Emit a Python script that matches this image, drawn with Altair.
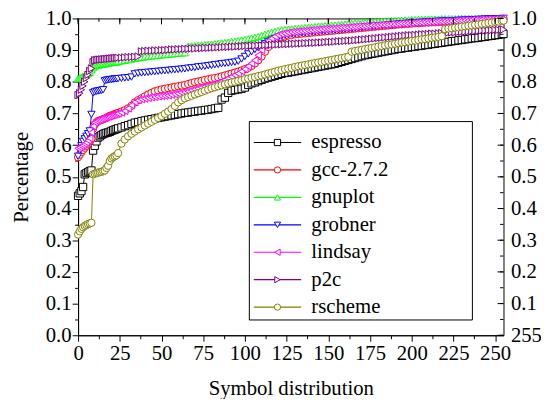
import altair as alt
import pandas as pd

SERIES = ["espresso", "gcc-2.7.2", "gnuplot", "grobner", "lindsay", "p2c", "rscheme"]
COLORS = ["#000000", "#ff0000", "#00ff00", "#0000ff", "#ff00ff", "#800080", "#808000"]
SHAPES = ["square", "circle", "triangle-up", "triangle-down",
          "triangle-left", "triangle-right", "circle"]

# symbol index: every one up to 24, then every second one, then the last
X = list(range(25)) + list(range(26, 255, 2)) + [255]

ESPRESSO = [
    0.440, 0.448, 0.455, 0.468, 0.508, 0.512, 0.515, 0.518, 0.520, 0.583,
    0.598, 0.612, 0.624, 0.628, 0.632, 0.635, 0.637, 0.639, 0.640, 0.642,
    0.645, 0.647, 0.649, 0.651, 0.653,
    0.656, 0.660, 0.663, 0.667, 0.671, 0.673, 0.676, 0.678, 0.680, 0.682,
    0.684, 0.686, 0.688, 0.690, 0.692, 0.694, 0.696, 0.698, 0.700, 0.702,
    0.703, 0.705, 0.706, 0.708, 0.709, 0.711, 0.712, 0.714, 0.716, 0.718,
    0.744, 0.750, 0.765, 0.772, 0.774, 0.776, 0.778, 0.782, 0.790, 0.795,
    0.798, 0.802, 0.806, 0.810, 0.813, 0.816, 0.819, 0.822, 0.825, 0.828,
    0.829, 0.831, 0.833, 0.835, 0.837, 0.839, 0.841, 0.843, 0.845, 0.847,
    0.849, 0.851, 0.853, 0.855, 0.857, 0.860, 0.863, 0.866, 0.869, 0.872,
    0.875, 0.878, 0.881, 0.884, 0.886, 0.888, 0.890, 0.892, 0.894, 0.896,
    0.898, 0.900, 0.902, 0.904, 0.905, 0.907, 0.908, 0.910, 0.911, 0.913,
    0.914, 0.916, 0.917, 0.919, 0.920, 0.922, 0.923, 0.925, 0.926, 0.928,
    0.929, 0.931, 0.932, 0.934, 0.935, 0.937, 0.938, 0.939, 0.941, 0.942,
    0.944, 0.945, 0.947, 0.948, 0.950, 0.951,
]
GCC = [
    0.562, 0.570, 0.578, 0.585, 0.592, 0.598, 0.605, 0.612, 0.620, 0.652,
    0.665, 0.672, 0.676, 0.678, 0.680, 0.682, 0.684, 0.686, 0.690, 0.692,
    0.694, 0.696, 0.698, 0.700, 0.702,
    0.706, 0.710, 0.716, 0.724, 0.735, 0.742, 0.748, 0.754, 0.760, 0.765,
    0.770, 0.773, 0.776, 0.778, 0.780, 0.782, 0.784, 0.786, 0.788, 0.790,
    0.793, 0.796, 0.799, 0.801, 0.803, 0.806, 0.808, 0.810, 0.812, 0.814,
    0.817, 0.820, 0.823, 0.826, 0.829, 0.832, 0.836, 0.840, 0.844, 0.850,
    0.858, 0.868, 0.880, 0.895, 0.910, 0.922, 0.930, 0.936, 0.940, 0.943,
    0.946, 0.948, 0.950, 0.951, 0.952, 0.953, 0.954, 0.955, 0.956, 0.957,
    0.958, 0.959, 0.960, 0.961, 0.962, 0.963, 0.964, 0.965, 0.966, 0.967,
    0.968, 0.969, 0.970, 0.971, 0.972, 0.973, 0.974, 0.975, 0.976, 0.977,
    0.978, 0.979, 0.980, 0.981, 0.982, 0.983, 0.983, 0.984, 0.985, 0.985,
    0.986, 0.987, 0.987, 0.988, 0.988, 0.989, 0.989, 0.990, 0.990, 0.991,
    0.991, 0.992, 0.992, 0.993, 0.993, 0.994, 0.994, 0.995, 0.995, 0.996,
    0.996, 0.997, 0.997, 0.998, 0.998, 0.999,
]
GNUPLOT = [
    0.810, 0.812, 0.815, 0.818, 0.820, 0.823, 0.826, 0.830, 0.838, 0.845,
    0.850, 0.852, 0.853, 0.854, 0.855, 0.856, 0.857, 0.858, 0.859, 0.860,
    0.861, 0.862, 0.862, 0.863, 0.864,
    0.866, 0.868, 0.870, 0.872, 0.874, 0.876, 0.877, 0.879, 0.880, 0.882,
    0.883, 0.884, 0.885, 0.886, 0.887, 0.888, 0.889, 0.890, 0.891, 0.892,
    0.912, 0.913, 0.914, 0.915, 0.916, 0.917, 0.918, 0.919, 0.920, 0.921,
    0.923, 0.924, 0.925, 0.927, 0.928, 0.930, 0.932, 0.934, 0.936, 0.938,
    0.940, 0.943, 0.946, 0.950, 0.953, 0.956, 0.959, 0.962, 0.964, 0.965,
    0.966, 0.967, 0.968, 0.969, 0.970, 0.971, 0.972, 0.973, 0.974, 0.975,
    0.976, 0.977, 0.977, 0.978, 0.979, 0.980, 0.981, 0.982, 0.983, 0.984,
    0.985, 0.986, 0.987, 0.987, 0.988, 0.989, 0.990, 0.990, 0.991, 0.992,
    0.992, 0.993, 0.993, 0.994, 0.994, 0.995, 0.995, 0.996, 0.996, 0.997,
    0.997, 0.997, 0.998, 0.998, 0.998, 0.998, 0.999, 0.999, 0.999, 0.999,
    0.999, 0.999, 1.000, 1.000, 1.000, 1.000, 1.000, 1.000, 1.000, 1.000,
    1.000, 1.000, 1.000, 1.000, 1.000, 1.000,
]
GROBNER = [
    0.565, 0.583, 0.598, 0.612, 0.620, 0.628, 0.636, 0.645, 0.697, 0.765,
    0.768, 0.770, 0.771, 0.772, 0.773, 0.775, 0.803, 0.805, 0.806, 0.807,
    0.807, 0.808, 0.809, 0.809, 0.810,
    0.811, 0.812, 0.813, 0.815, 0.825, 0.827, 0.828, 0.829, 0.830, 0.831,
    0.832, 0.833, 0.834, 0.835, 0.836, 0.837, 0.838, 0.839, 0.840, 0.841,
    0.843, 0.844, 0.845, 0.847, 0.848, 0.849, 0.851, 0.852, 0.854, 0.855,
    0.857, 0.858, 0.859, 0.861, 0.862, 0.865, 0.872, 0.880, 0.888, 0.895,
    0.902, 0.908, 0.914, 0.920, 0.926, 0.931, 0.936, 0.940, 0.944, 0.947,
    0.949, 0.951, 0.952, 0.953, 0.954, 0.955, 0.956, 0.957, 0.958, 0.959,
    0.960, 0.961, 0.962, 0.963, 0.963, 0.964, 0.965, 0.966, 0.967, 0.968,
    0.969, 0.970, 0.971, 0.972, 0.973, 0.974, 0.975, 0.976, 0.977, 0.978,
    0.979, 0.980, 0.981, 0.982, 0.983, 0.984, 0.985, 0.986, 0.986, 0.987,
    0.988, 0.988, 0.989, 0.990, 0.990, 0.991, 0.991, 0.992, 0.992, 0.993,
    0.993, 0.994, 0.994, 0.995, 0.995, 0.996, 0.996, 0.997, 0.997, 0.998,
    0.998, 0.998, 0.999, 0.999, 0.999, 1.000,
]
LINDSAY = [
    0.590, 0.593, 0.597, 0.600, 0.604, 0.608, 0.615, 0.622, 0.640, 0.660,
    0.672, 0.676, 0.679, 0.681, 0.683, 0.685, 0.687, 0.689, 0.690, 0.692,
    0.694, 0.696, 0.697, 0.699, 0.700,
    0.703, 0.708, 0.716, 0.726, 0.736, 0.742, 0.745, 0.747, 0.749, 0.751,
    0.752, 0.754, 0.755, 0.756, 0.757, 0.759, 0.761, 0.763, 0.766, 0.768,
    0.770, 0.773, 0.776, 0.779, 0.782, 0.785, 0.788, 0.791, 0.794, 0.797,
    0.801, 0.806, 0.811, 0.816, 0.821, 0.826, 0.833, 0.840, 0.849, 0.858,
    0.868, 0.884, 0.900, 0.916, 0.929, 0.937, 0.943, 0.948, 0.951, 0.953,
    0.955, 0.957, 0.958, 0.959, 0.960, 0.961, 0.962, 0.963, 0.964, 0.965,
    0.966, 0.967, 0.967, 0.968, 0.969, 0.970, 0.971, 0.971, 0.972, 0.973,
    0.974, 0.975, 0.975, 0.976, 0.977, 0.978, 0.978, 0.979, 0.980, 0.980,
    0.981, 0.982, 0.982, 0.983, 0.984, 0.984, 0.985, 0.985, 0.986, 0.987,
    0.987, 0.988, 0.988, 0.989, 0.989, 0.990, 0.990, 0.991, 0.991, 0.992,
    0.992, 0.993, 0.993, 0.994, 0.994, 0.995, 0.995, 0.995, 0.996, 0.996,
    0.997, 0.997, 0.998, 0.998, 0.999, 0.999,
]
P2C = [
    0.758, 0.764, 0.775, 0.787, 0.800, 0.812, 0.822, 0.834, 0.842, 0.862,
    0.868, 0.869, 0.870, 0.870, 0.871, 0.871, 0.872, 0.872, 0.873, 0.873,
    0.874, 0.874, 0.875, 0.875, 0.876,
    0.876, 0.877, 0.878, 0.878, 0.879, 0.880, 0.896, 0.897, 0.898, 0.898,
    0.899, 0.899, 0.900, 0.900, 0.901, 0.902, 0.902, 0.903, 0.903, 0.904,
    0.904, 0.905, 0.905, 0.906, 0.906, 0.907, 0.907, 0.908, 0.908, 0.909,
    0.909, 0.910, 0.910, 0.911, 0.911, 0.912, 0.912, 0.913, 0.913, 0.914,
    0.914, 0.915, 0.915, 0.916, 0.916, 0.917, 0.917, 0.918, 0.918, 0.919,
    0.919, 0.920, 0.920, 0.921, 0.921, 0.922, 0.922, 0.923, 0.923, 0.924,
    0.924, 0.925, 0.926, 0.926, 0.927, 0.928, 0.928, 0.929, 0.930, 0.930,
    0.931, 0.932, 0.933, 0.934, 0.935, 0.936, 0.937, 0.938, 0.939, 0.940,
    0.941, 0.942, 0.943, 0.944, 0.945, 0.946, 0.947, 0.947, 0.948, 0.949,
    0.950, 0.950, 0.951, 0.952, 0.952, 0.953, 0.954, 0.954, 0.955, 0.956,
    0.956, 0.957, 0.958, 0.958, 0.959, 0.960, 0.960, 0.961, 0.962, 0.962,
    0.963, 0.963, 0.964, 0.964, 0.965, 0.965,
]
RSCHEME = [
    0.318, 0.328, 0.336, 0.341, 0.345, 0.348, 0.351, 0.353, 0.355, 0.508,
    0.510, 0.512, 0.513, 0.515, 0.516, 0.518, 0.520, 0.528, 0.535, 0.550,
    0.558, 0.562, 0.565, 0.568, 0.575,
    0.605, 0.618, 0.628, 0.636, 0.643, 0.650, 0.656, 0.662, 0.668, 0.674,
    0.680, 0.686, 0.692, 0.699, 0.706, 0.714, 0.724, 0.735, 0.742, 0.748,
    0.752, 0.756, 0.760, 0.764, 0.768, 0.772, 0.776, 0.780, 0.783, 0.786,
    0.789, 0.792, 0.795, 0.798, 0.800, 0.803, 0.805, 0.808, 0.810, 0.813,
    0.815, 0.818, 0.820, 0.823, 0.826, 0.829, 0.832, 0.835, 0.837, 0.840,
    0.842, 0.844, 0.847, 0.849, 0.851, 0.853, 0.855, 0.857, 0.859, 0.861,
    0.863, 0.865, 0.867, 0.869, 0.871, 0.873, 0.875, 0.877, 0.879, 0.895,
    0.897, 0.899, 0.901, 0.903, 0.905, 0.907, 0.909, 0.911, 0.913, 0.915,
    0.917, 0.918, 0.920, 0.922, 0.924, 0.925, 0.927, 0.929, 0.930, 0.932,
    0.934, 0.935, 0.937, 0.939, 0.940, 0.942, 0.944, 0.966, 0.968, 0.969,
    0.971, 0.972, 0.974, 0.975, 0.977, 0.978, 0.980, 0.981, 0.983, 0.984,
    0.986, 0.987, 0.989, 0.990, 0.992, 0.993,
]

X_TICKS = [i * 12.5 for i in range(21)]
Y_TICKS = [round(i * 0.05, 2) for i in range(21)]
Y_MAJOR = [round(i * 0.1, 1) for i in range(11)]
X_MAJOR = [i * 25 for i in range(11)]

W, H = 431, 321
FONT = "Liberation Serif"

rows = []
for name, vals in zip(SERIES, [ESPRESSO, GCC, GNUPLOT, GROBNER, LINDSAY, P2C, RSCHEME]):
    assert len(vals) == len(X), name
    for x, v in zip(X, vals):
        rows.append({"series": name, "x": x, "y": v})
df = pd.DataFrame(rows)

xscale = alt.Scale(domain=[0, 255], nice=False, zero=False)
yscale = alt.Scale(domain=[0, 1], nice=False, zero=False)

x_axis = alt.Axis(
    orient="bottom",
    values=X_TICKS,
    labelExpr="datum.value % 25 == 0 ? format(datum.value, 'd') : ''",
    tickSize={"condition": {"test": "datum.value % 25 != 0", "value": 3.5}, "value": 6},
    labelPadding=2, labelFlush=False, labelOverlap=False,
    title="Symbol distribution", titleX=215.5, titleY=60,
    titleBaseline="alphabetic", titleAlign="center",
)
y_axis = alt.Axis(
    values=Y_TICKS,
    labelExpr="round(datum.value * 100) % 10 == 0 ? format(datum.value, '.1f') : ''",
    tickSize={"condition": {"test": "round(datum.value * 100) % 10 != 0", "value": 3.5},
              "value": 6},
    labelPadding=1, labelFlush=False, labelOverlap=False,
    title="Percentage", titleX=-51.5, titleY=160.5, titleAngle=270,
    titleBaseline="alphabetic", titleAlign="center",
)
X_ENC = alt.X("x:Q", scale=xscale, axis=x_axis)

leg_common = dict(
    orient="none", legendX=173, legendY=104, title=" ", titleFontSize=6,
    titlePadding=3.6, padding=1.6, labelFont=FONT, labelFontSize=21,
    rowPadding=5.8, symbolOffset=16.9,
)
line_legend = alt.Legend(
    symbolType="M-4.8,0H4.8", symbolSize=100, symbolStrokeWidth=1.2,
    labelOffset=23.8, labelColor="black", **leg_common,
)
point_legend = alt.Legend(
    symbolSize=40, symbolStrokeWidth=1, symbolFillColor="white",
    labelOffset=105.8, labelOpacity=0, strokeColor="black", **leg_common,
)

base = alt.Chart(df)

lines = base.mark_line(strokeWidth=1).encode(
    x=X_ENC,
    y=alt.Y("y:Q", scale=yscale, axis=y_axis),
    color=alt.Color("series:N", scale=alt.Scale(domain=SERIES, range=COLORS),
                    legend=line_legend),
    detail="series:N",
)

points = base.mark_point(filled=False, fill="white", size=55, strokeWidth=1,
                         opacity=1).encode(
    x=X_ENC,
    y=alt.Y("y:Q", scale=yscale, axis=None),
    color=alt.Color("series:N", scale=alt.Scale(domain=SERIES, range=COLORS),
                    legend=point_legend),
    shape=alt.Shape("series:N", scale=alt.Scale(domain=SERIES, range=SHAPES),
                    legend=point_legend),
)

# inward ticks on the top and right edges
top_major = alt.Chart(pd.DataFrame({"v": X_MAJOR})).mark_rule(color="black").encode(
    x=alt.X("v:Q", scale=xscale, axis=x_axis), y=alt.value(0), y2=alt.value(6))
top_minor = alt.Chart(pd.DataFrame({"v": X_TICKS})).mark_rule(color="black").encode(
    x=alt.X("v:Q", scale=xscale, axis=x_axis), y=alt.value(0), y2=alt.value(3.5))
right_major = alt.Chart(pd.DataFrame({"v": Y_MAJOR})).mark_rule(color="black").encode(
    y=alt.Y("v:Q", scale=yscale, axis=alt.Axis(
        orient="right", values=Y_MAJOR, ticks=False, tickSize=0, domain=False,
        labelPadding=7, labelOverlap=False, labelFlush=False, title=None,
        labelExpr="datum.value == 0 ? '255' : format(datum.value, '.1f')")),
    x=alt.value(W), x2=alt.value(W - 6))
right_minor = alt.Chart(pd.DataFrame({"v": Y_TICKS})).mark_rule(color="black").encode(
    y=alt.Y("v:Q", scale=yscale, axis=None), x=alt.value(W), x2=alt.value(W - 3.5))

chart = (
    alt.layer(lines, points, top_major, top_minor, right_major, right_minor)
    .resolve_scale(color="independent", shape="independent")
    .resolve_axis(y="independent")
    .properties(
        width=W, height=H,
        autosize=alt.AutoSizeParams(type="none"),
        padding={"left": 71, "top": 8, "right": 38, "bottom": 62},
    )
    .configure_view(stroke="black", strokeWidth=1)
    .configure_axis(
        labelFont=FONT, labelFontSize=21, labelColor="black",
        titleFont=FONT, titleFontSize=21, titleFontWeight="normal", titleColor="black",
        domainColor="black", domainWidth=1, tickColor="black", tickWidth=1, grid=False,
    )
)

chart.save("out.html", embed_options={"renderer": "svg", "actions": False})
